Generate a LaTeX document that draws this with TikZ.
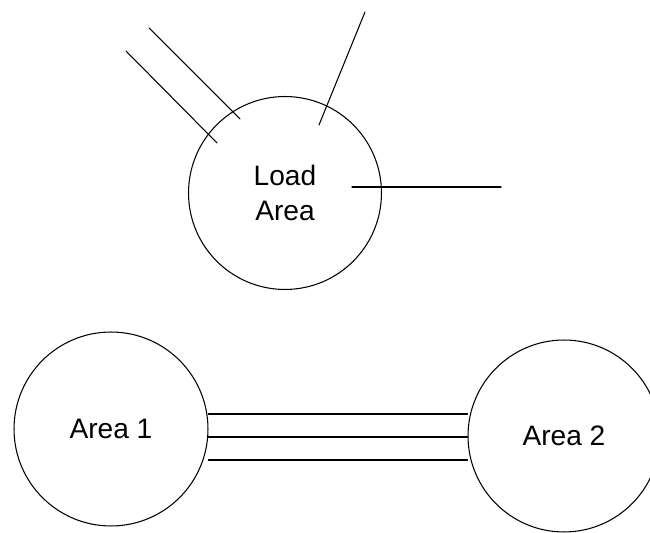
\documentclass[tikz,border=0pt]{standalone}
\usepackage{fontspec}
\setmainfont{Liberation Sans}

\begin{document}
\begin{tikzpicture}[x=0.02cm, y=-0.02cm,
                    line cap=round, line join=round,
                    area/.style={circle, draw, line width=0.6pt, inner sep=0pt,
                                 align=center, font=\fontsize{16}{20}\selectfont},
                    tie/.style={black, line width=0.6pt}]
  \useasboundingbox (0,0) rectangle (650,533);
  \clip (0,0) rectangle (650,533);

  % load area with its incoming lines
  \node[area, minimum size=3.86cm] (load) at (285,193) {Load\\Area};
  \coordinate (inA) at (126,51);  \coordinate (endA) at (217,143);
  \coordinate (inB) at (149,28);  \coordinate (endB) at (240,119);
  \coordinate (inC) at (365,12);  \coordinate (endC) at (319,125);
  \coordinate (outD) at (501,187); \coordinate (endD) at (352,187);
  \foreach \a/\b in {inA/endA, inB/endB, inC/endC, outD/endD}
    \draw[tie] (\a) -- (\b);

  % two areas joined by three tie lines
  \node[area, minimum size=3.88cm] (area1) at (111,429) {Area 1};
  \node[area, minimum size=3.84cm] (area2) at (564,436) {Area 2};
  \foreach \y in {414,437,460}
    \draw[tie] (area1.east |- 0,\y) -- (area2.west |- 0,\y);
\end{tikzpicture}
\end{document}
